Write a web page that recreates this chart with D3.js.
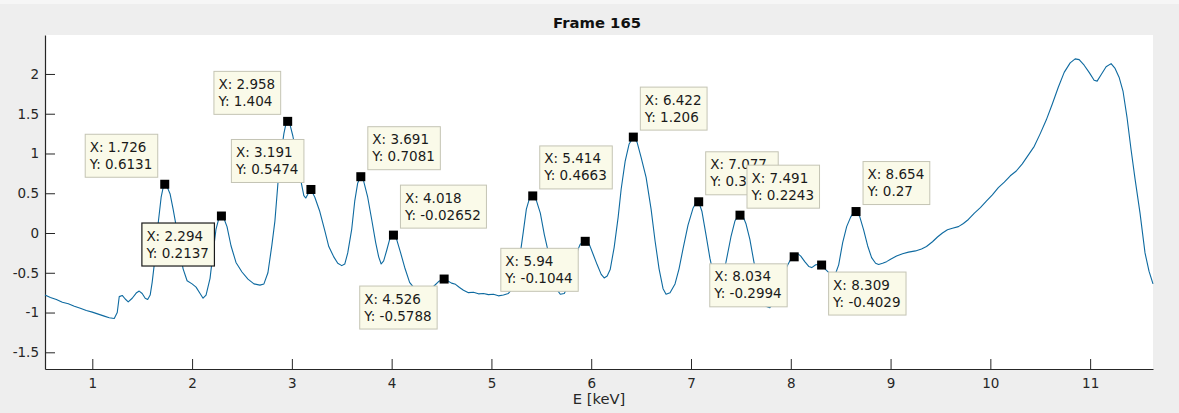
<!DOCTYPE html>
<html>
<head>
<meta charset="utf-8">
<script src="https://cdn.jsdelivr.net/npm/d3@7"></script>
<style>
  html, body { margin: 0; padding: 0; background: #eeeeee; }
  svg { display: block; font-family: "DejaVu Sans", sans-serif; }
</style>
</head>
<body>
<svg id="chart" width="1179" height="413"></svg>
<script>
// Spectrum trace: energy (keV) and signal
const energy = [
  0.526, 0.58, 0.64, 0.70, 0.76, 0.82, 0.88, 0.94, 1.00, 1.06, 1.12, 1.17, 1.22, 1.25, 1.27, 1.30,
  1.33, 1.36, 1.40, 1.44, 1.47, 1.50, 1.53, 1.555, 1.58, 1.60, 1.63, 1.66, 1.69, 1.71, 1.726, 1.75,
  1.78, 1.81, 1.85, 1.88, 1.91, 1.95, 2.00, 2.04, 2.08, 2.11, 2.14, 2.18, 2.21, 2.24, 2.27, 2.294,
  2.32, 2.35, 2.39, 2.44, 2.50, 2.56, 2.62, 2.68, 2.72, 2.76, 2.80, 2.83, 2.86, 2.89, 2.92, 2.94,
  2.958, 2.98, 3.01, 3.05, 3.09, 3.12, 3.14, 3.165, 3.191, 3.23, 3.28, 3.33, 3.37, 3.42, 3.46, 3.50,
  3.53, 3.56, 3.60, 3.63, 3.66, 3.691, 3.72, 3.76, 3.80, 3.84, 3.87, 3.895, 3.92, 3.95, 3.98, 4.018,
  4.05, 4.09, 4.13, 4.18, 4.23, 4.28, 4.33, 4.38, 4.43, 4.47, 4.50, 4.526, 4.56, 4.60, 4.64, 4.68,
  4.72, 4.77, 4.82, 4.87, 4.92, 4.97, 5.02, 5.07, 5.12, 5.17, 5.21, 5.25, 5.29, 5.32, 5.35, 5.38,
  5.414, 5.45, 5.49, 5.53, 5.57, 5.61, 5.65, 5.69, 5.73, 5.77, 5.81, 5.85, 5.89, 5.94, 5.98, 6.02,
  6.06, 6.10, 6.13, 6.16, 6.19, 6.23, 6.27, 6.30, 6.34, 6.38, 6.422, 6.46, 6.50, 6.55, 6.60, 6.64,
  6.68, 6.72, 6.75, 6.79, 6.84, 6.88, 6.92, 6.97, 7.02, 7.05, 7.077, 7.11, 7.15, 7.19, 7.23, 7.27,
  7.31, 7.35, 7.40, 7.44, 7.47, 7.491, 7.52, 7.55, 7.59, 7.63, 7.67, 7.71, 7.75, 7.79, 7.83, 7.88,
  7.93, 7.97, 8.00, 8.034, 8.07, 8.10, 8.14, 8.18, 8.21, 8.25, 8.28, 8.309, 8.35, 8.40, 8.44, 8.48,
  8.52, 8.56, 8.60, 8.63, 8.654, 8.69, 8.73, 8.77, 8.81, 8.85, 8.88, 8.92, 8.96, 9.00, 9.06, 9.12,
  9.18, 9.25, 9.31, 9.36, 9.42, 9.47, 9.52, 9.57, 9.62, 9.68, 9.73, 9.78, 9.84, 9.90, 9.96, 10.02,
  10.08, 10.14, 10.20, 10.26, 10.32, 10.38, 10.44, 10.50, 10.56, 10.62, 10.68, 10.74, 10.80, 10.85, 10.89, 10.94,
  10.99, 11.04, 11.07, 11.11, 11.16, 11.21, 11.25, 11.29, 11.33, 11.37, 11.41, 11.45, 11.50, 11.55, 11.59, 11.63
];
const signal = [
  -0.78, -0.81, -0.835, -0.87, -0.89, -0.92, -0.945, -0.975, -0.995, -1.02, -1.045, -1.065, -1.075, -1.0, -0.80, -0.785,
  -0.83, -0.865, -0.82, -0.755, -0.73, -0.76, -0.82, -0.835, -0.78, -0.62, -0.30, 0.12, 0.45, 0.57, 0.6131, 0.58,
  0.49, 0.30, 0.02, -0.25, -0.45, -0.60, -0.64, -0.68, -0.76, -0.82, -0.78, -0.57, -0.25, 0.05, 0.19, 0.2137,
  0.18, 0.08, -0.16, -0.37, -0.49, -0.58, -0.64, -0.655, -0.64, -0.50, -0.15, 0.15, 0.62, 0.98, 1.25, 1.37,
  1.404, 1.37, 1.22, 0.95, 0.66, 0.47, 0.44, 0.50, 0.5474, 0.45, 0.27, 0.03, -0.17, -0.30, -0.38, -0.41,
  -0.39, -0.25, 0.05, 0.40, 0.63, 0.7081, 0.65, 0.45, 0.17, -0.12, -0.30, -0.39, -0.35, -0.22, -0.08, -0.02652,
  -0.08, -0.25, -0.43, -0.62, -0.70, -0.73, -0.74, -0.72, -0.66, -0.61, -0.59, -0.5788, -0.60, -0.63, -0.645, -0.685,
  -0.72, -0.75, -0.745, -0.765, -0.76, -0.775, -0.77, -0.79, -0.78, -0.76, -0.70, -0.50, -0.25, 0.02, 0.30, 0.43,
  0.4663, 0.41, 0.25, -0.02, -0.24, -0.50, -0.70, -0.77, -0.76, -0.66, -0.45, -0.26, -0.14, -0.1044, -0.14, -0.27,
  -0.40, -0.52, -0.565, -0.54, -0.46, -0.18, 0.20, 0.55, 0.90, 1.12, 1.206, 1.14, 0.95, 0.70, 0.30, -0.10,
  -0.45, -0.70, -0.77, -0.75, -0.64, -0.45, -0.20, 0.10, 0.31, 0.38, 0.3927, 0.27, -0.02, -0.32, -0.55, -0.62,
  -0.55, -0.37, -0.05, 0.15, 0.215, 0.2243, 0.21, 0.12, -0.08, -0.36, -0.62, -0.82, -0.92, -0.94, -0.88, -0.70,
  -0.50, -0.40, -0.33, -0.2994, -0.26, -0.29, -0.36, -0.42, -0.435, -0.40, -0.395, -0.4029, -0.46, -0.52, -0.54, -0.40,
  -0.12, 0.08, 0.20, 0.26, 0.27, 0.21, 0.04, -0.16, -0.31, -0.38, -0.395, -0.38, -0.36, -0.33, -0.29, -0.26,
  -0.24, -0.225, -0.20, -0.17, -0.11, -0.05, 0.00, 0.04, 0.06, 0.08, 0.12, 0.17, 0.25, 0.32, 0.40, 0.48,
  0.57, 0.64, 0.72, 0.78, 0.87, 0.98, 1.09, 1.25, 1.42, 1.62, 1.83, 2.02, 2.14, 2.19, 2.18, 2.11,
  2.02, 1.92, 1.91, 1.99, 2.09, 2.13, 2.07, 1.96, 1.78, 1.45, 1.05, 0.68, 0.25, -0.25, -0.48, -0.64
];

// Data cursors
const tipE = [1.726, 2.294, 2.958, 3.191, 3.691, 4.018, 4.526, 5.414, 5.94, 6.422, 7.077, 7.491, 8.034, 8.309, 8.654];
const tipV = [0.6131, 0.2137, 1.404, 0.5474, 0.7081, -0.02652, -0.5788, 0.4663, -0.1044, 1.206, 0.3927, 0.2243, -0.2994, -0.4029, 0.27];
// Which side of the marker each cursor box sits on (u/d, l/r)
const tipSide = ["ul", "dl", "ul", "ul", "ur", "ur", "dl", "ur", "dl", "ur", "ur", "ur", "dl", "dr", "ur"];
const selectedTip = 1;

const xTicks = [1, 2, 3, 4, 5, 6, 7, 8, 9, 10, 11];
const yTicks = [-1.5, -1, -0.5, 0, 0.5, 1, 1.5, 2];
const titleText = "Frame 165";
const xLabelText = "E [keV]";

const svg = d3.select("#chart");
const W = 1179, H = 413;
const m = { left: 45, right: 1153, top: 35, bottom: 369 };
const axisColor = "#262626";

svg.append("rect").attr("width", W).attr("height", H).attr("fill", "#eeeeee");
svg.append("rect").attr("width", W).attr("height", 4).attr("fill", "#f6f6f6");
svg.append("rect")
  .attr("x", m.left).attr("y", m.top)
  .attr("width", m.right - m.left).attr("height", m.bottom - m.top)
  .attr("fill", "#ffffff");

const x = d3.scaleLinear().domain([0.526, 11.63]).range([m.left, m.right]);
const y = d3.scaleLinear().domain([-1.71, 2.49]).range([m.bottom, m.top]);

// Axes with inward ticks
const xAxis = d3.axisBottom(x).tickValues(xTicks).tickSizeInner(-10).tickSizeOuter(0)
  .tickPadding(9).tickFormat(d => String(d));
const yAxis = d3.axisLeft(y).tickValues(yTicks).tickSizeInner(-10).tickSizeOuter(0)
  .tickPadding(6).tickFormat(d => String(d));

const gx = svg.append("g").attr("transform", `translate(0,${m.bottom})`).call(xAxis);
const gy = svg.append("g").attr("transform", `translate(${m.left},0)`).call(yAxis);
[gx, gy].forEach(g => {
  g.select(".domain").attr("stroke", axisColor).attr("stroke-width", 1.2);
  g.selectAll(".tick line").attr("stroke", axisColor).attr("stroke-width", 1);
  g.selectAll(".tick text").attr("fill", axisColor)
    .style("font-family", "'DejaVu Sans', sans-serif").style("font-size", "13.5px");
});

// Spectrum line
const pts = energy.map((e, i) => [e, signal[i]]);
const line = d3.line().x(d => x(d[0])).y(d => y(d[1]));
svg.append("path")
  .datum(pts)
  .attr("d", line)
  .attr("fill", "none")
  .attr("stroke", "#0e6aa0")
  .attr("stroke-width", 1.1)
  .attr("stroke-linejoin", "round");

// Title and axis label
svg.append("text")
  .attr("x", (m.left + m.right) / 2 - 2).attr("y", 28)
  .attr("text-anchor", "middle")
  .attr("font-weight", "bold").attr("font-size", "14.8px")
  .attr("fill", "#111111")
  .text(titleText);
svg.append("text")
  .attr("x", (m.left + m.right) / 2).attr("y", 404)
  .attr("text-anchor", "middle")
  .attr("font-size", "14.7px")
  .attr("fill", axisColor)
  .text(xLabelText);

// Data cursor markers and boxes
const gap = 7, boxH = 43, padL = 4.5, padR = 5.5;
const tips = tipE.map((e, i) => ({ e, v: tipV[i], side: tipSide[i], sel: i === selectedTip }));

const tipLayer = svg.append("g");
tips.forEach(t => {
  const px = x(t.e), py = y(t.v);
  const g = tipLayer.append("g");
  const box = g.append("rect");
  const l1 = g.append("text").attr("font-size", "13.5px").attr("fill", "#1a1a1a").text("X: " + t.e);
  const l2 = g.append("text").attr("font-size", "13.5px").attr("fill", "#1a1a1a").text("Y: " + t.v);
  const tw = Math.max(l1.node().getComputedTextLength(), l2.node().getComputedTextLength());
  const bw = tw + padL + padR;
  const bx = t.side[1] === "l" ? px - gap - bw : px + gap;
  const by = t.side[0] === "u" ? py - gap - boxH : py + gap;
  box.attr("x", bx).attr("y", by).attr("width", bw).attr("height", boxH)
    .attr("fill", "#fafae9")
    .attr("stroke", t.sel ? "#1a1a1a" : "#c4c4b4")
    .attr("stroke-width", t.sel ? 1.2 : 1);
  l1.attr("x", bx + padL).attr("y", by + 17.5);
  l2.attr("x", bx + padL).attr("y", by + 34.5);
});

svg.append("g").selectAll("rect.marker")
  .data(tips)
  .join("rect")
  .attr("class", "marker")
  .attr("x", d => x(d.e) - 4.5)
  .attr("y", d => y(d.v) - 4.5)
  .attr("width", 9).attr("height", 9)
  .attr("fill", "#000000");
</script>
</body>
</html>
